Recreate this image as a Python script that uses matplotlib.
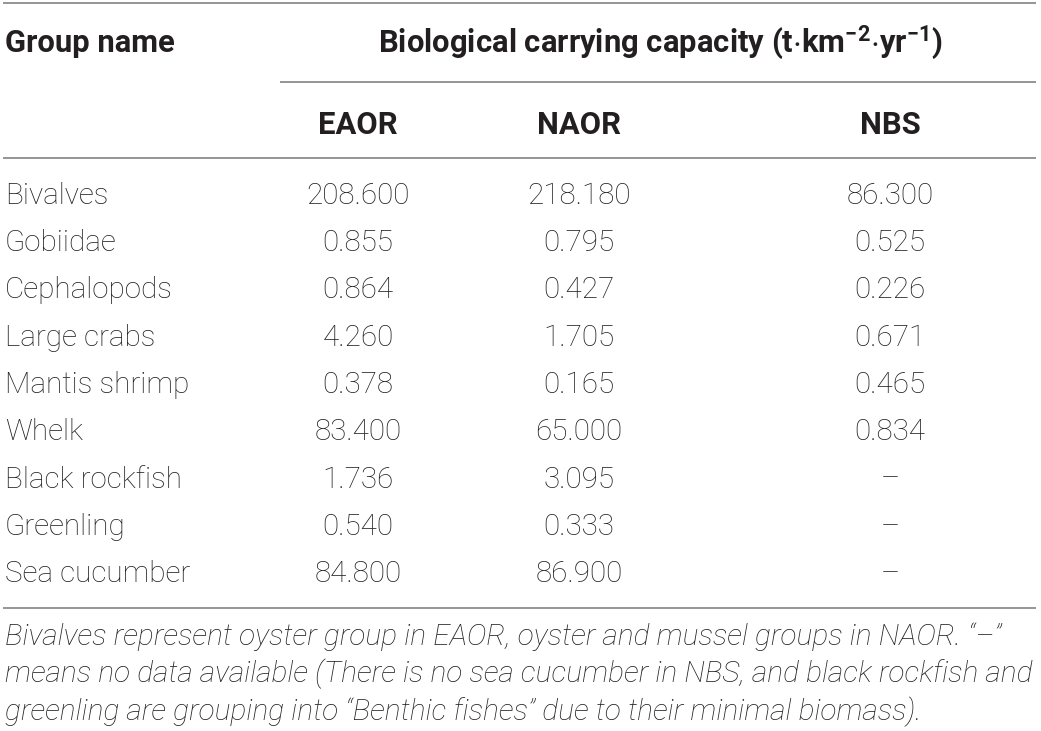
import matplotlib.pyplot as plt

plt.rcParams['font.family'] = ['Roboto', 'Liberation Sans', 'DejaVu Sans']
plt.rcParams['mathtext.default'] = 'regular'

# table content
group_names = ["Bivalves", "Gobiidae", "Cephalopods", "Large crabs", "Mantis shrimp",
               "Whelk", "Black rockfish", "Greenling", "Sea cucumber"]
columns = ["EAOR", "NAOR", "NBS"]
eaor = ["208.600", "0.855", "0.864", "4.260", "0.378", "83.400", "1.736", "0.540", "84.800"]
naor = ["218.180", "0.795", "0.427", "1.705", "0.165", "65.000", "3.095", "0.333", "86.900"]
nbs = ["86.300", "0.525", "0.226", "0.671", "0.465", "0.834", "\u2013", "\u2013", "\u2013"]
header_left = "Group name"
header_span = r"Biological carrying capacity (t$\cdot$km$^{-2}$$\cdot$yr$^{-1}$)"
footnote = ["Bivalves represent oyster group in EAOR, oyster and mussel groups in NAOR. \u201c\u2013\u201d",
            "means no data available (There is no sea cucumber in NBS, and black rockfish and",
            "greenling are grouping into \u201cBenthic fishes\u201d due to their minimal biomass)."]

W, H = 1041, 731
fig = plt.figure(figsize=(W / 100, H / 100), dpi=100)
ax = fig.add_axes([0, 0, 1, 1])
ax.set_xlim(0, W)
ax.set_ylim(H, 0)
ax.axis('off')

ink = '#231f20'
rule = '#8c8c8c'
fs = 21.3
fs_bold = 22.3
fs_note = 21.55

# rules
for y, x0 in [(3, 3), (82, 280), (158, 3), (608, 3)]:
    ax.plot([x0, 1036], [y, y], color=rule, lw=1.3, solid_capstyle='butt')

# header
ax.text(5, 52, header_left, fontsize=fs_bold, fontweight='bold', color=ink, va='baseline')
ax.text(660, 52, header_span, fontsize=fs_bold, fontweight='bold', color=ink, va='baseline', ha='center')
col_x = [358, 579, 890]
for cx, name in zip(col_x, columns):
    ax.text(cx, 134, name, fontsize=fs_bold, fontweight='bold', color=ink, va='baseline', ha='center')

# body
y0, step = 204, 47.25
for i, name in enumerate(group_names):
    y = y0 + i * step
    ax.text(5, y, name, fontsize=fs, fontweight='light', color=ink, va='baseline')
    for cx, col in zip(col_x, [eaor, naor, nbs]):
        ax.text(cx, y, col[i], fontsize=fs, fontweight='light', color=ink, va='baseline', ha='center')

# footnote
for i, line in enumerate(footnote):
    ax.text(5, 645 + i * 37.5, line, fontsize=fs_note, fontweight='light', fontstyle='italic',
            color=ink, va='baseline')

fig.savefig('out.png', dpi=100)
